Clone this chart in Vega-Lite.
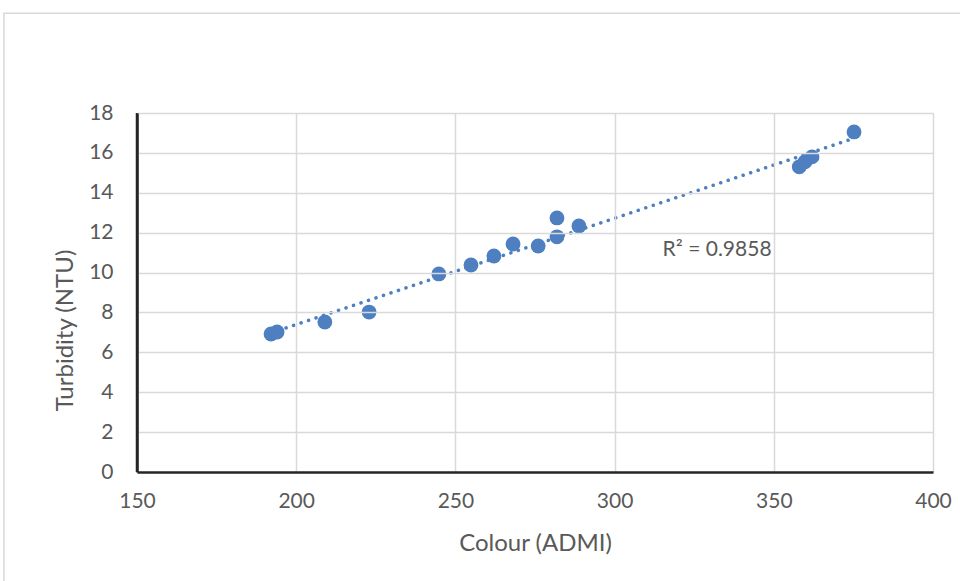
{
  "$schema": "https://vega.github.io/schema/vega-lite/v6.json",
  "width": 796,
  "height": 359,
  "autosize": "none",
  "padding": {"left": 137, "top": 113, "right": 27, "bottom": 109},
  "background": "white",
  "config": {
    "view": {"stroke": null},
    "font": "Lato",
    "axis": {
      "grid": true,
      "gridWidth": 1.5,
      "ticks": false,
      "tickSize": 0,
      "labelFontSize": 21,
      "labelColor": "#595959",
      "labelFlush": false,
      "labelOverlap": false,
      "titleFontSize": 24,
      "titleFontWeight": "normal",
      "titleColor": "#595959"
    }
  },
  "data": {
    "values": [
      {"Colour": 192.1, "Turbidity": 6.92},
      {"Colour": 194.0, "Turbidity": 7.02},
      {"Colour": 209.0, "Turbidity": 7.52},
      {"Colour": 222.9, "Turbidity": 8.02},
      {"Colour": 244.8, "Turbidity": 9.93},
      {"Colour": 254.9, "Turbidity": 10.38},
      {"Colour": 262.1, "Turbidity": 10.83},
      {"Colour": 268.1, "Turbidity": 11.43},
      {"Colour": 276.0, "Turbidity": 11.33},
      {"Colour": 281.9, "Turbidity": 11.79},
      {"Colour": 281.9, "Turbidity": 12.74},
      {"Colour": 288.8, "Turbidity": 12.34},
      {"Colour": 358.0, "Turbidity": 15.30},
      {"Colour": 359.8, "Turbidity": 15.55},
      {"Colour": 362.0, "Turbidity": 15.80},
      {"Colour": 375.2, "Turbidity": 17.05}
    ]
  },
  "encoding": {
    "x": {
      "field": "Colour",
      "type": "quantitative",
      "scale": {"domain": [150, 400], "nice": false, "zero": false},
      "axis": {
        "title": "Colour (ADMI)",
        "values": [150, 200, 250, 300, 350, 400],
        "gridColor": {"condition": {"test": "datum.value === 150", "value": null}, "value": "#d9d9d9"},
        "domain": true,
        "domainColor": "#262626",
        "domainWidth": 2.5,
        "labelPadding": 29,
        "labelBaseline": "middle",
        "titleBaseline": "middle",
        "titleY": 71,
        "zindex": 1
      }
    },
    "y": {
      "field": "Turbidity",
      "type": "quantitative",
      "scale": {"domain": [0, 18], "nice": false},
      "axis": {
        "title": "Turbidity (NTU)",
        "values": [0, 2, 4, 6, 8, 10, 12, 14, 16, 18],
        "gridColor": {"condition": {"test": "datum.value === 0", "value": null}, "value": "#d9d9d9"},
        "domain": true,
        "domainColor": "#262626",
        "domainWidth": 2.5,
        "labelPadding": 24,
        "titleAngle": -90,
        "titleAlign": "center",
        "titleBaseline": "middle",
        "titleX": -72,
        "titleY": 217,
        "zindex": 1
      }
    }
  },
  "layer": [
    {
      "data": {"values": [{"Colour": 108.2, "Turbidity": 23.0, "Colour2": 412, "Turbidity2": -7}]},
      "mark": {"type": "rect", "fill": null, "stroke": "#d9d9d9", "strokeWidth": 1.5, "clip": false},
      "encoding": {
        "x2": {"field": "Colour2"},
        "y2": {"field": "Turbidity2"}
      }
    },
    {
      "data": {"values": [{"Colour": 150, "Turbidity": 0, "Turbidity2": 18}]},
      "mark": {"type": "rule", "color": "#262626", "strokeWidth": 2.5, "clip": false},
      "encoding": {
        "y2": {"field": "Turbidity2"}
      }
    },
    {
      "mark": {"type": "point", "filled": true, "opacity": 1, "size": 220, "color": "#4E7FC0"}
    },
    {
      "transform": [{"regression": "Turbidity", "on": "Colour"}],
      "mark": {"type": "line", "color": "#4E7FC0", "strokeWidth": 3.5, "strokeDash": [0.1, 7.8], "strokeCap": "round"}
    },
    {
      "data": {"values": [{"Colour": 349.3, "Turbidity": 11.13, "label": "R² = 0.9858"}]},
      "mark": {"type": "text", "align": "right", "baseline": "middle", "fontSize": 21, "color": "#595959"},
      "encoding": {
        "text": {"field": "label"}
      }
    }
  ]
}
